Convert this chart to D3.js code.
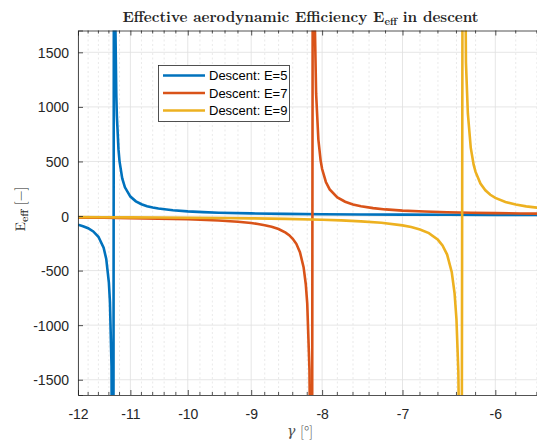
<!DOCTYPE html>
<html>
<head>
<meta charset="utf-8">
<script src="https://cdn.jsdelivr.net/npm/d3@7"></script>
<style>
  body { margin: 0; background: #fff; }
  svg { display: block; }
</style>
</head>
<body>
<div id="chart"></div>
<script>
// descent angle gamma [deg] and effective efficiency
var gammaE5 = [-12, -11.9, -11.8, -11.7, -11.6, -11.5, -11.45, -11.4, -11.38, -11.35, -11.32,
  -11.3, -11.28, -11.26, -11.25, -11.22, -11.2, -11.15, -11.1, -11, -10.9, -10.8, -10.7, -10.6,
  -10.5, -10.25, -10, -9.75, -9.5, -9, -8.5, -8, -7.5, -7, -6.5, -6, -5.5];
var effE5 = [-79.6, -93.2, -112, -141, -190, -290, -393, -610, -786, -1374, -5455,
  5565, 1843, 1104, 920, 613, 501, 345, 263, 178, 134.6, 108, 90.5, 77.8,
  68.2, 52.2, 42.2, 35.5, 30.6, 24.0, 19.8, 16.8, 14.6, 12.95, 11.6, 10.5, 9.64];

var gammaE7 = [-12, -11.5, -11, -10.5, -10, -9.5, -9.2, -9, -8.9, -8.8, -8.7, -8.6, -8.5, -8.45,
  -8.4, -8.35, -8.3, -8.25, -8.22, -8.2, -8.17, -8.15, -8.14,
  -8.12, -8.1, -8.08, -8.05, -8.02, -8, -7.95, -7.9, -7.8, -7.7, -7.6, -7.5, -7.35, -7.2, -7,
  -6.75, -6.5, -6.25, -6, -5.75, -5.5];
var effE7 = [-14.3, -16.5, -19.4, -23.5, -29.9, -40.8, -52.4, -64.4, -72.8, -83.7, -98.4, -119.3, -151.7, -175,
  -208, -255, -331, -469, -625, -803, -1407, -2823, -5670,
  5560, 1865, 1121, 701, 510, 431, 312, 244, 170, 130.7, 106, 89.2, 72.1, 60.5, 49.8,
  40.8, 34.6, 30.0, 26.5, 23.7, 21.5];

var gammaE9 = [-12, -11.5, -11, -10.5, -10, -9.5, -9, -8.5, -8, -7.75, -7.5, -7.25, -7, -6.9,
  -6.8, -6.7, -6.6, -6.55, -6.5, -6.45, -6.42, -6.4, -6.38, -6.36, -6.35,
  -6.33, -6.3, -6.28, -6.25, -6.22, -6.2, -6.15, -6.1, -6.05, -6, -5.9, -5.8, -5.7, -5.6, -5.5];
var effE9 = [-9.86, -10.8, -12.0, -13.5, -15.3, -17.8, -21.2, -26.1, -34.0, -40.0, -48.7, -62.1, -85.7, -101,
  -123, -157, -218, -270, -353, -515, -709, -946, -1422, -2858, -5775,
  5549, 1408, 940, 627, 471, 404, 298, 236, 195, 166, 128.7, 105, 88.5, 76.6, 67.5];

var seriesNames = ["Descent: E=5", "Descent: E=7", "Descent: E=9"];
var xTicks = [-12, -11, -10, -9, -8, -7, -6];
var yTicks = [-1500, -1000, -500, 0, 500, 1000, 1500];

var margin = {top: 30.5, left: 78},
  totalW = 537, totalH = 441,
  plotRight = 547.7, plotBottom = 395;

var svg = d3.select("#chart").append("svg")
  .attr("width", totalW)
  .attr("height", totalH);

// x is logarithmic in |gamma| (negative log axis)
var x = d3.scaleLog()
  .domain([-12, -5.5])
  .range([margin.left, plotRight]);

var y = d3.scaleLinear()
  .domain([-1640, 1700])
  .range([plotBottom, margin.top]);

var color = d3.scaleOrdinal()
  .domain(seriesNames)
  .range(["#0072BD", "#D95319", "#EDB120"]);

// minor positions every 0.2 deg
var minorX = d3.range(-11.8, -5.5, 0.2).map(function(v) { return +v.toFixed(1); })
  .filter(function(v) { return xTicks.indexOf(v) < 0; });

// grid
var grid = svg.append("g");
grid.selectAll(".minor")
  .data(minorX)
  .join("line")
  .attr("x1", function(d) { return x(d); })
  .attr("x2", function(d) { return x(d); })
  .attr("y1", margin.top)
  .attr("y2", plotBottom)
  .attr("stroke", "#dadada")
  .attr("stroke-width", 0.6)
  .attr("stroke-dasharray", "2,2.5");

grid.selectAll(".majx")
  .data(xTicks)
  .join("line")
  .attr("x1", function(d) { return x(d); })
  .attr("x2", function(d) { return x(d); })
  .attr("y1", margin.top)
  .attr("y2", plotBottom)
  .attr("stroke", "#dfdfdf")
  .attr("stroke-width", 0.8);

grid.selectAll(".majy")
  .data(yTicks)
  .join("line")
  .attr("x1", margin.left)
  .attr("x2", plotRight)
  .attr("y1", function(d) { return y(d); })
  .attr("y2", function(d) { return y(d); })
  .attr("stroke", "#dfdfdf")
  .attr("stroke-width", 0.8);

// curves
svg.append("defs").append("clipPath")
  .attr("id", "clip")
  .append("rect")
  .attr("x", margin.left)
  .attr("y", margin.top)
  .attr("width", plotRight - margin.left)
  .attr("height", plotBottom - margin.top);

var series = [
  {name: seriesNames[0], g: gammaE5, e: effE5},
  {name: seriesNames[1], g: gammaE7, e: effE7},
  {name: seriesNames[2], g: gammaE9, e: effE9}
];

var line = d3.line()
  .x(function(d) { return x(d[0]); })
  .y(function(d) { return y(d[1]); });

svg.append("g")
  .attr("clip-path", "url(#clip)")
  .selectAll("path")
  .data(series)
  .join("path")
  .attr("fill", "none")
  .attr("stroke", function(d) { return color(d.name); })
  .attr("stroke-width", 2.6)
  .attr("d", function(d) { return line(d.g.map(function(v, i) { return [v, d.e[i]]; })); });

// axes (ticks inside, box on)
var axisCol = "#262626";
var plain = function(d) { return String(d); };

var xAxis = svg.append("g")
  .attr("transform", "translate(0," + plotBottom + ")")
  .call(d3.axisBottom(x).tickValues(xTicks).tickSize(-5).tickPadding(14).tickFormat(plain));
var xAxisTop = svg.append("g")
  .attr("transform", "translate(0," + margin.top + ")")
  .call(d3.axisTop(x).tickValues(xTicks).tickSize(-5).tickFormat(""));
var yAxis = svg.append("g")
  .attr("transform", "translate(" + margin.left + ",0)")
  .call(d3.axisLeft(y).tickValues(yTicks).tickSize(-5).tickPadding(9).tickFormat(plain));

[xAxis, xAxisTop, yAxis].forEach(function(a) {
  a.select(".domain").attr("stroke", axisCol).attr("stroke-width", 0.8);
  a.selectAll(".tick line").attr("stroke", axisCol).attr("stroke-width", 0.8);
  a.selectAll("text")
    .attr("fill", axisCol)
    .style("font-family", "'Liberation Sans', Arial, sans-serif")
    .style("font-size", "14px");
});
yAxis.selectAll("text").attr("dy", "0.36em");

// minor ticks on bottom and top
[plotBottom, margin.top].forEach(function(yy, k) {
  svg.append("g").selectAll("line")
    .data(minorX)
    .join("line")
    .attr("x1", function(d) { return x(d); })
    .attr("x2", function(d) { return x(d); })
    .attr("y1", yy)
    .attr("y2", k === 0 ? yy - 3 : yy + 3)
    .attr("stroke", axisCol)
    .attr("stroke-width", 0.8);
});

// title
var serif = "'Latin Modern Roman', 'CMU Serif', 'DejaVu Serif', serif";
var title = svg.append("text")
  .attr("x", 300.5)
  .attr("y", 22)
  .attr("text-anchor", "middle")
  .attr("fill", axisCol)
  .style("font-family", serif)
  .style("font-weight", "bold")
  .style("font-size", "15px");
title.append("tspan").text("Effective aerodynamic Efficiency E");
title.append("tspan").attr("dy", 3).style("font-size", "10.5px").text("eff");
title.append("tspan").attr("dy", -3).text(" in descent");

// axis labels
var xl = svg.append("text")
  .attr("x", 300)
  .attr("y", 436)
  .attr("text-anchor", "middle")
  .attr("fill", "#4d4d4d")
  .style("font-family", serif)
  .style("font-size", "14px");
xl.append("tspan").style("font-style", "italic").text("\u03b3");
xl.append("tspan").text(" [\u00b0]");

var yl = svg.append("text")
  .attr("transform", "translate(25,209) rotate(-90)")
  .attr("text-anchor", "middle")
  .attr("fill", axisCol)
  .style("font-family", serif)
  .style("font-size", "14px");
yl.append("tspan").text("E");
yl.append("tspan").attr("dy", 3).style("font-size", "10px").style("font-weight", "bold").text("eff");
yl.append("tspan").attr("dy", -3).text("  [\u2212]");

// legend
var lg = svg.append("g");
lg.append("rect")
  .attr("x", 158.5)
  .attr("y", 65.5)
  .attr("width", 131)
  .attr("height", 56)
  .attr("fill", "#fff")
  .attr("stroke", axisCol)
  .attr("stroke-width", 0.8);

var rows = lg.selectAll(".row")
  .data(seriesNames)
  .join("g")
  .attr("transform", function(d, i) { return "translate(0," + (75.5 + i * 17.5) + ")"; });
rows.append("line")
  .attr("x1", 163)
  .attr("x2", 205)
  .attr("stroke", function(d) { return color(d); })
  .attr("stroke-width", 2.6);
rows.append("text")
  .attr("x", 209)
  .attr("dy", "0.36em")
  .attr("fill", "#000")
  .style("font-family", "'Liberation Sans', Arial, sans-serif")
  .style("font-size", "13px")
  .text(function(d) { return d; });
</script>
</body>
</html>
